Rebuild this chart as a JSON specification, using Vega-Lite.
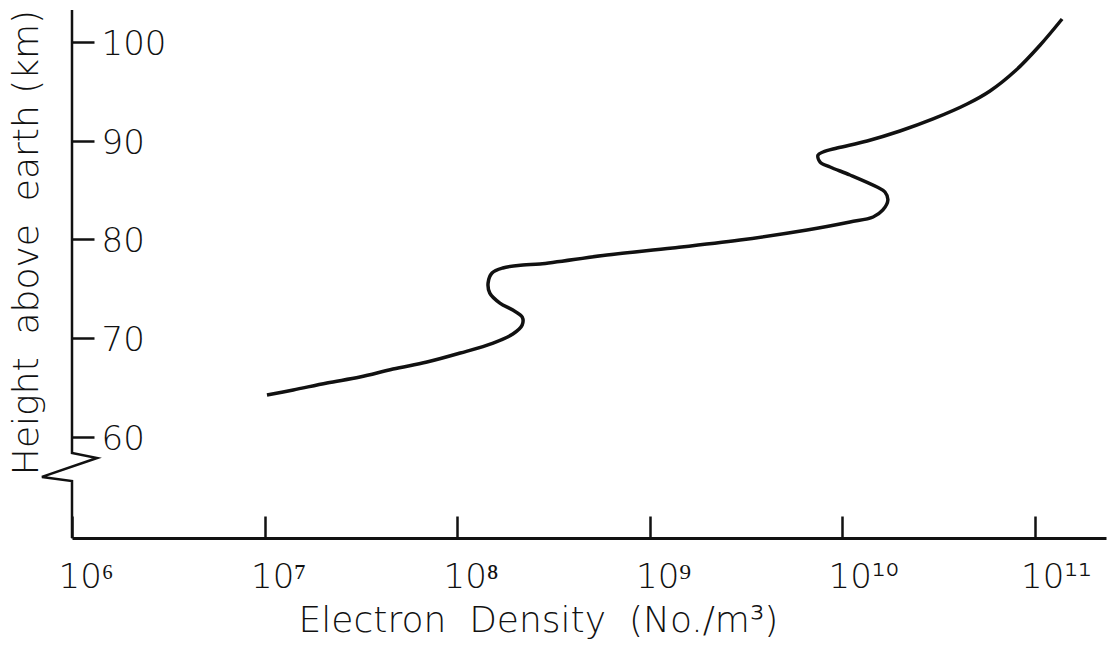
{
  "$schema": "https://vega.github.io/schema/vega-lite/v6.json",
  "width": 1034,
  "height": 528,
  "autosize": {"type": "none"},
  "padding": {"left": 72, "top": 10, "right": 2, "bottom": 112},
  "background": "white",
  "config": {"view": {"stroke": null}, "font": "DejaVu Sans"},
  "datasets": {
    "profile": [
      {"i": 1, "density": 1.03e7, "height": 64.25},
      {"i": 2, "density": 1.41e7, "height": 64.76},
      {"i": 3, "density": 2.11e7, "height": 65.47},
      {"i": 4, "density": 3.13e7, "height": 66.07},
      {"i": 5, "density": 4.65e7, "height": 66.88},
      {"i": 6, "density": 6.98e7, "height": 67.59},
      {"i": 7, "density": 1.04e8, "height": 68.5},
      {"i": 8, "density": 1.54e8, "height": 69.51},
      {"i": 9, "density": 1.95e8, "height": 70.43},
      {"i": 10, "density": 2.18e8, "height": 71.34},
      {"i": 11, "density": 2.18e8, "height": 72.15},
      {"i": 12, "density": 1.95e8, "height": 72.85},
      {"i": 13, "density": 1.67e8, "height": 73.56},
      {"i": 14, "density": 1.48e8, "height": 74.57},
      {"i": 15, "density": 1.45e8, "height": 75.59},
      {"i": 16, "density": 1.52e8, "height": 76.6},
      {"i": 17, "density": 1.73e8, "height": 77.11},
      {"i": 18, "density": 2.2e8, "height": 77.41},
      {"i": 19, "density": 2.7e8, "height": 77.51},
      {"i": 20, "density": 6.01e8, "height": 78.42},
      {"i": 21, "density": 1.32e9, "height": 79.13},
      {"i": 22, "density": 2.95e9, "height": 79.94},
      {"i": 23, "density": 6.58e9, "height": 80.95},
      {"i": 24, "density": 1.1e10, "height": 81.76},
      {"i": 25, "density": 1.45e10, "height": 82.27},
      {"i": 26, "density": 1.63e10, "height": 82.98},
      {"i": 27, "density": 1.73e10, "height": 83.99},
      {"i": 28, "density": 1.67e10, "height": 84.8},
      {"i": 29, "density": 1.52e10, "height": 85.3},
      {"i": 30, "density": 1.1e10, "height": 86.52},
      {"i": 31, "density": 8.67e9, "height": 87.33},
      {"i": 32, "density": 7.69e9, "height": 87.83},
      {"i": 33, "density": 7.5e9, "height": 88.54},
      {"i": 34, "density": 7.96e9, "height": 88.85},
      {"i": 35, "density": 9.42e9, "height": 89.25},
      {"i": 36, "density": 1.35e10, "height": 89.96},
      {"i": 37, "density": 2.0e10, "height": 90.97},
      {"i": 38, "density": 2.97e10, "height": 92.19},
      {"i": 39, "density": 4.46e10, "height": 93.7},
      {"i": 40, "density": 5.87e10, "height": 95.02},
      {"i": 41, "density": 7.92e10, "height": 97.04},
      {"i": 42, "density": 1.07e11, "height": 99.68},
      {"i": 43, "density": 1.39e11, "height": 102.31}
    ],
    "axisbreak": [
      {"i": 0, "density": 1e6, "height": 103.22},
      {"i": 1, "density": 1e6, "height": 58.38},
      {"i": 2, "density": 1.35e6, "height": 57.88},
      {"i": 3, "density": 6.98e5, "height": 55.96},
      {"i": 4, "density": 1e6, "height": 55.55},
      {"i": 5, "density": 1e6, "height": 49.78}
    ]
  },
  "encoding": {
    "x": {
      "field": "density",
      "type": "quantitative",
      "scale": {"type": "log", "domain": [1e6, 2.35e11], "nice": false},
      "axis": {
        "title": "Electron\u00a0\u00a0Density\u00a0\u00a0(No./m³)",
        "values": [1e6, 1e7, 1e8, 1e9, 1e10, 1e11],
        "labelExpr": "['10⁶','10⁷','10⁸','10⁹','10¹⁰','10¹¹'][round(log(datum.value)/LN10)-6]",
        "grid": false,
        "domain": true,
        "domainWidth": 3,
        "domainColor": "#111",
        "tickSize": -22,
        "tickWidth": 2.5,
        "tickColor": "#111",
        "labelAlign": "left",
        "labelBaseline": "alphabetic",
        "labelPadding": 71,
        "labelOffset": -14,
        "labelFlush": false,
        "labelOverlap": false,
        "labelBound": false,
        "labelFontSize": 34,
        "labelFont": "DejaVu Sans",
        "labelFontWeight": 200,
        "labelColor": "#111",
        "titleFont": "DejaVu Sans",
        "titleFontSize": 36,
        "titleFontWeight": 200,
        "titleColor": "#111",
        "titleAlign": "center",
        "titleBaseline": "alphabetic",
        "titleX": 466,
        "titleY": 93
      }
    },
    "y": {
      "field": "height",
      "type": "quantitative",
      "scale": {"domain": [49.78, 103.22], "nice": false, "zero": false},
      "axis": {
        "title": "Height\u00a0\u00a0above\u00a0\u00a0earth\u00a0(km)",
        "values": [60, 70, 80, 90, 100],
        "grid": false,
        "domain": false,
        "tickSize": -22,
        "tickWidth": 2.5,
        "tickColor": "#111",
        "labelAlign": "left",
        "labelBaseline": "alphabetic",
        "labelPadding": -7,
        "labelOffset": 12.5,
        "labelFlush": false,
        "labelOverlap": false,
        "labelBound": false,
        "labelFontSize": 34,
        "labelFont": "DejaVu Sans",
        "labelFontWeight": 200,
        "labelColor": "#111",
        "titleFont": "DejaVu Sans",
        "titleFontSize": 36,
        "titleFontWeight": 200,
        "titleColor": "#111",
        "titleAngle": -90,
        "titleAlign": "center",
        "titleBaseline": "alphabetic",
        "titleX": -35,
        "titleY": 232
      }
    }
  },
  "layer": [
    {
      "data": {"name": "axisbreak"},
      "mark": {"type": "line", "color": "#111", "strokeWidth": 2.5, "clip": false},
      "encoding": {"order": {"field": "i", "type": "quantitative"}}
    },
    {
      "data": {"name": "profile"},
      "mark": {"type": "line", "interpolate": "catmull-rom", "color": "#111", "strokeWidth": 3.5},
      "encoding": {"order": {"field": "i", "type": "quantitative"}}
    }
  ]
}
